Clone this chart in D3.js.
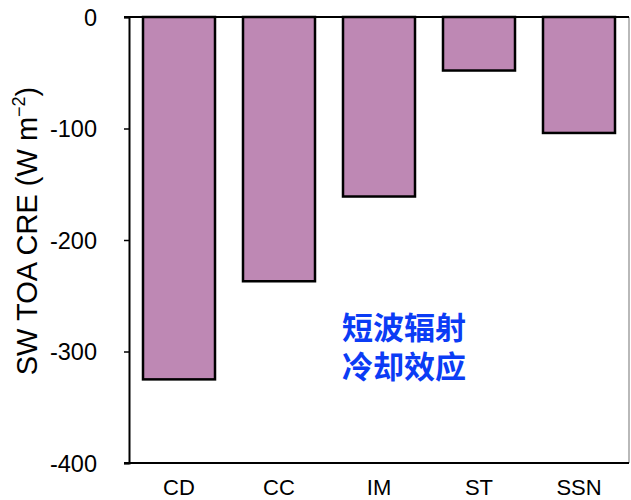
<!DOCTYPE html>
<html>
<head>
<meta charset="utf-8">
<script src="https://cdn.jsdelivr.net/npm/d3@7"></script>
<style>
  html, body { margin: 0; padding: 0; background: #fff; }
  svg { display: block; }
</style>
</head>
<body>
<svg id="chart" width="631" height="500"></svg>
<script>
// Shortwave top-of-atmosphere cloud radiative effect by regime
const categories = ["CD", "CC", "IM", "ST", "SSN"];
const values = [-325, -237, -161, -48, -104];
const yTicks = [0, -100, -200, -300, -400];
const noteLines = ["短波辐射", "冷却效应"];

const svg = d3.select("#chart");
const margin = { left: 129, top: 17, right: 2, bottom: 37 };
const W = 631, H = 500;

const x = d3.scaleBand()
  .domain(categories)
  .range([margin.left, W - margin.right])
  .paddingInner(0.28)
  .paddingOuter(0.14);

const y = d3.scaleLinear()
  .domain([-400, 0])
  .range([H - margin.bottom, margin.top]);

const font = "Liberation Sans, Arial, sans-serif";

// right border of the plot frame
svg.append("line")
  .attr("x1", W - margin.right).attr("x2", W - margin.right)
  .attr("y1", y(0)).attr("y2", y(-400))
  .attr("stroke", "#8a8a8a").attr("stroke-width", 1.2);

// bars hang down from zero
svg.append("g").selectAll("rect")
  .data(values)
  .join("rect")
  .attr("x", (d, i) => x(categories[i]))
  .attr("width", x.bandwidth())
  .attr("y", y(0))
  .attr("height", d => y(d) - y(0))
  .attr("fill", "#be88b4")
  .attr("stroke", "#000")
  .attr("stroke-width", 2.5);

// y axis (plain hyphen for negatives)
const yAxis = d3.axisLeft(y).tickValues(yTicks).tickSize(5).tickPadding(27)
  .tickFormat(d => String(d));
const gy = svg.append("g").attr("transform", `translate(${margin.left},0)`).call(yAxis);
gy.select(".domain").attr("stroke", "#000").attr("stroke-width", 2);
gy.selectAll(".tick line").attr("stroke", "#000").attr("stroke-width", 1.5);
gy.selectAll(".tick text")
  .attr("font-family", font).attr("font-size", 23.5).attr("fill", "#000")
  .attr("dy", "0.36em");

// zero line and bottom line
svg.append("line")
  .attr("x1", margin.left - 5).attr("x2", W - margin.right)
  .attr("y1", y(0)).attr("y2", y(0))
  .attr("stroke", "#000").attr("stroke-width", 2.2);
svg.append("line")
  .attr("x1", margin.left - 5).attr("x2", W - margin.right)
  .attr("y1", y(-400)).attr("y2", y(-400))
  .attr("stroke", "#000").attr("stroke-width", 2);

// category labels
svg.append("g").selectAll("text")
  .data(categories)
  .join("text")
  .attr("x", d => x(d) + x.bandwidth() / 2)
  .attr("y", 495)
  .attr("text-anchor", "middle")
  .attr("font-family", font).attr("font-size", 22).attr("fill", "#000")
  .text(d => d);

// y title
const title = svg.append("text")
  .attr("transform", "translate(37,231) rotate(-90)")
  .attr("text-anchor", "middle")
  .attr("font-family", font).attr("font-size", 29).attr("fill", "#000");
title.append("tspan").text("SW TOA CRE (W m");
title.append("tspan").text("−2").attr("font-size", 18).attr("dy", -12);
title.append("tspan").text(")").attr("dy", 12);

// two-line annotation in one text block
const note = svg.append("text")
  .attr("text-anchor", "middle")
  .attr("font-family", "Noto Sans CJK SC, sans-serif")
  .attr("font-weight", "bold")
  .attr("font-size", 31)
  .attr("fill", "#0b3cf5");
note.selectAll("tspan")
  .data(noteLines)
  .join("tspan")
  .attr("x", 404)
  .attr("y", (d, i) => 339 + i * 39)
  .text(d => d);
</script>
</body>
</html>
